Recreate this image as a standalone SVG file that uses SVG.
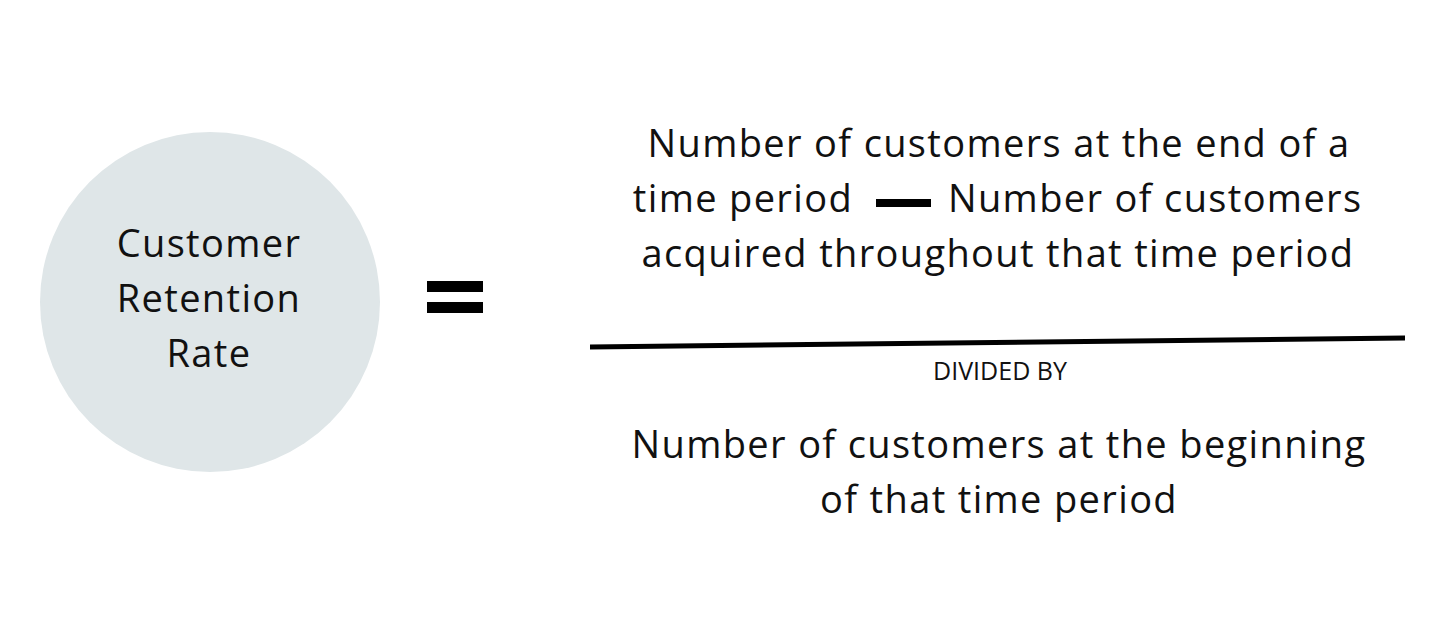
<svg xmlns="http://www.w3.org/2000/svg" width="1452" height="620" viewBox="0 0 1452 620">
<style>
.t{font-family:"Open Sans","Liberation Sans",sans-serif;fill:#111;text-anchor:middle}
.big{font-size:38px;letter-spacing:1.35px}
.small{font-size:25px}
</style>
<rect width="1452" height="620" fill="#fff"/>
<g id="node-crr">
<circle cx="210" cy="302" r="170" fill="#dfe6e8"/>
<text class="t big" x="209" y="257">Customer</text>
<text class="t big" x="209" y="312">Retention</text>
<text class="t big" x="209" y="367">Rate</text>
</g>
<g id="equals">
<rect x="427" y="281" width="56" height="11" fill="#000"/>
<rect x="427" y="302" width="56" height="11" fill="#000"/>
</g>
<g id="numerator">
<text class="t big" x="999" y="157">Number of customers at the end of a</text>
<text class="t big" x="853" y="212" style="text-anchor:end">time period</text>
<rect x="876" y="199" width="55" height="8" fill="#000"/>
<text class="t big" x="948" y="212" style="text-anchor:start">Number of customers</text>
<text class="t big" x="998" y="267">acquired throughout that time period</text>
</g>
<g id="connectors">
<path d="M590 347 L1405 338" stroke="#000" stroke-width="5" fill="none"/>
</g>
<g id="divided">
<text class="t small" x="1000" y="380">DIVIDED BY</text>
</g>
<g id="denominator">
<text class="t big" x="999" y="458">Number of customers at the beginning</text>
<text class="t big" x="999" y="513">of that time period</text>
</g>
</svg>
